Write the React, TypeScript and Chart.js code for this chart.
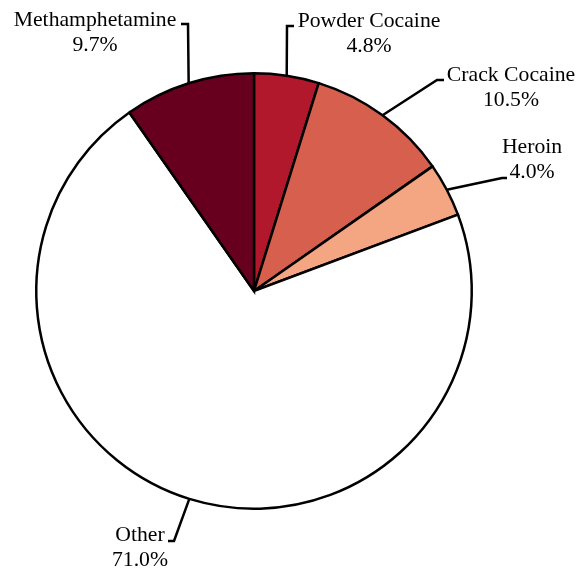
import React, { useEffect, useRef } from "react";
import { Chart, registerables } from "chart.js";

Chart.register(...registerables);

const categories = ["Powder Cocaine", "Crack Cocaine", "Heroin", "Other", "Methamphetamine"];
const shares = [4.8, 10.5, 4.0, 71.0, 9.7];
const shareLabels = ["4.8%", "10.5%", "4.0%", "71.0%", "9.7%"];
const sliceColors = ["#B2182B", "#D6604D", "#F4A582", "#FFFFFF", "#67001F"];

// leader-line / label layout (canvas pixels): elbow point, line end x, text block centre x, first baseline y
const labelLayout = [
  { ex: 287, ey: 26, endX: 294, tx: 369, ty: 27 },
  { ex: 437, ey: 80, endX: 444, tx: 511, ty: 81 },
  { ex: 502, ey: 178, endX: 507, tx: 532, ty: 153 },
  { ex: 174, ey: 541, endX: 168, tx: 140, ty: 541 },
  { ex: 188, ey: 24, endX: 181, tx: 95, ty: 26 },
];

const FONT = '21.7px "Liberation Serif", "Times New Roman", serif';

const leaderPlugin = {
  id: "leaderLabels",
  afterDraw(chart: any) {
    const ctx = chart.ctx;
    const meta = chart.getDatasetMeta(0);
    ctx.save();
    meta.data.forEach((arc: any, i: number) => {
      const p = arc.getProps(["x", "y", "startAngle", "endAngle", "outerRadius"], true);
      const mid = (p.startAngle + p.endAngle) / 2;
      const ax = p.x + Math.cos(mid) * p.outerRadius;
      const ay = p.y + Math.sin(mid) * p.outerRadius;
      const L = labelLayout[i];
      ctx.beginPath();
      ctx.strokeStyle = "#000";
      ctx.lineWidth = 2.5;
      ctx.lineJoin = "miter";
      ctx.moveTo(ax, ay);
      ctx.lineTo(L.ex, L.ey);
      ctx.lineTo(L.endX, L.ey);
      ctx.stroke();
      ctx.fillStyle = "#000";
      ctx.font = FONT;
      ctx.textAlign = "center";
      ctx.textBaseline = "alphabetic";
      ctx.fillText(categories[i], L.tx, L.ty);
      ctx.fillText(shareLabels[i], L.tx, L.ty + 24.5);
    });
    ctx.restore();
  },
};

export default function App() {
  const ref = useRef<HTMLCanvasElement | null>(null);
  useEffect(() => {
    if (!ref.current) return;
    const chart = new Chart(ref.current, {
      type: "pie",
      data: {
        labels: categories,
        datasets: [
          {
            data: shares,
            backgroundColor: sliceColors,
            borderColor: "#000000",
            borderWidth: 2.5,
            borderJoinStyle: "miter",
          } as any,
        ],
      },
      options: {
        animation: false,
        responsive: false,
        maintainAspectRatio: false,
        layout: { padding: { left: 35, right: 106, top: 72, bottom: 63 } },
        plugins: {
          legend: { display: false },
          tooltip: { enabled: false },
        },
        events: [],
      },
      plugins: [leaderPlugin],
    });
    return () => chart.destroy();
  }, []);
  return (
    <div style={{ position: "absolute", left: 0, top: 0, width: 579, height: 573, background: "#fff" }}>
      <canvas ref={ref} width={579} height={573} style={{ width: 579, height: 573 }} />
    </div>
  );
}
